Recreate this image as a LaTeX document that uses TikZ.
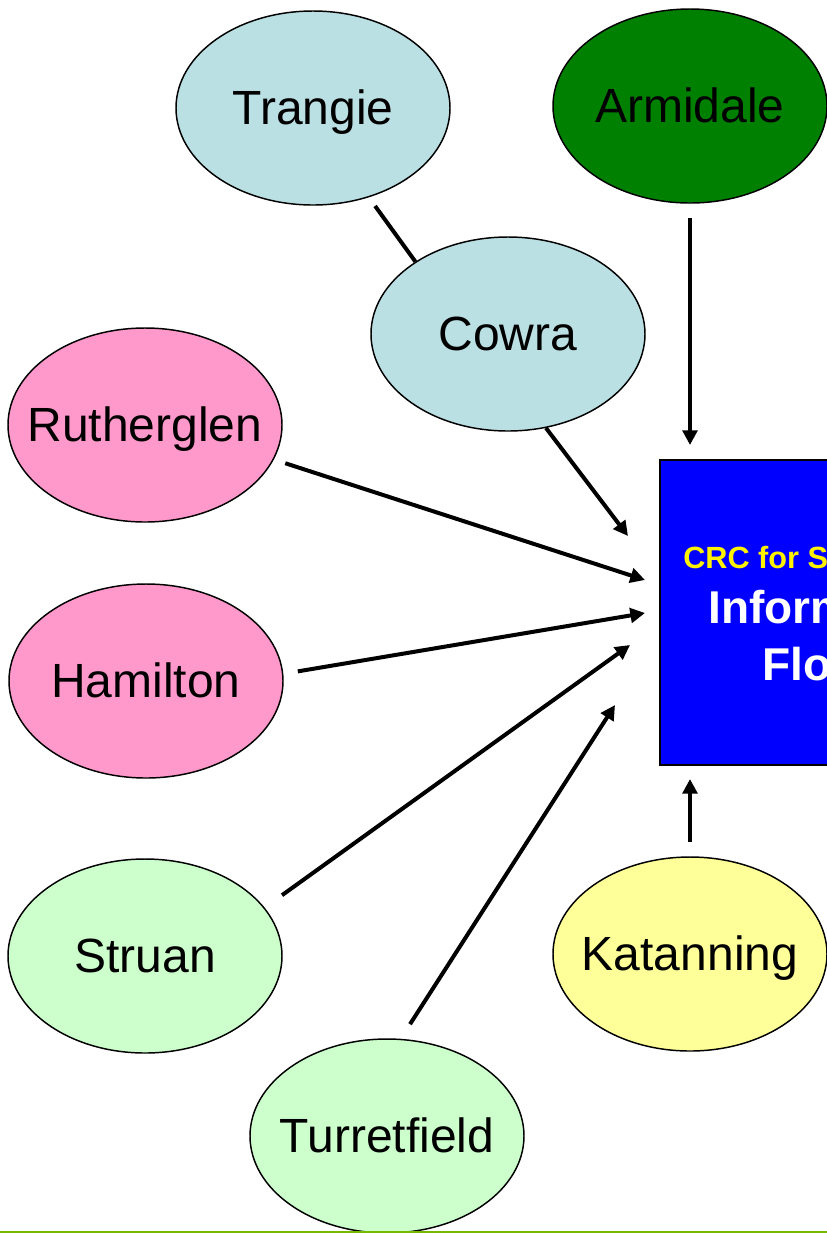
\documentclass[tikz,border=0pt]{standalone}
\usepackage{fontspec}
\setmainfont{Liberation Sans}
\usetikzlibrary{arrows.meta,shapes.geometric}

\definecolor{sitecyan}{RGB}{187,224,228}
\definecolor{sitepink}{RGB}{255,153,204}
\definecolor{sitegreen}{RGB}{0,128,0}
\definecolor{sitemint}{RGB}{204,255,204}
\definecolor{siteyellow}{RGB}{255,255,153}
\definecolor{footgreen}{RGB}{118,185,0}

% fixed-size ellipse label
\newcommand{\sitename}[1]{\makebox[0pt][c]{#1}}

\begin{document}
\begin{tikzpicture}[
      x=0.75pt, y=-0.75pt,
      site/.style={draw=black, ellipse, line width=1.1pt, minimum width=205.5pt, minimum height=145.5pt, inner sep=0pt, text height=24pt, text depth=0pt, font=\fontsize{36pt}{42pt}\selectfont},
      infobox/.style={draw=black, fill=blue, line width=1.5pt, minimum width=262.5pt, minimum height=228.75pt, inner sep=0pt},
      boxtext/.style={anchor=base west, inner sep=0pt, font=\fontsize{34.5pt}{40pt}\selectfont\bfseries\color{white}},
      arr/.style={-{Triangle[length=11pt, width=11pt]}, line width=3pt, color=black},
      link/.style={line width=3pt, color=black}
  ]
      \useasboundingbox (0,0) rectangle (827,1233);
      \clip (0,0) rectangle (827,1233);

      % CENTRE BOX
      \node[infobox] (info) at (835,612.5) {};
      \node[boxtext, font=\fontsize{23pt}{28pt}\selectfont\bfseries\color{yellow}] (crc) at (683,568) {CRC for Sheep};
      \node[boxtext] (infor) at (708,623) {Information};
      \node[boxtext] (flow) at (762,680) {Flow};

      % SITES
      \node[site, fill=sitecyan] (trangie) at (313,108) {\sitename{Trangie}};
      \node[site, fill=sitegreen] (armidale) at (690,106) {\sitename{Armidale}};
      \node[site, fill=sitecyan] (cowra) at (508,334) {\sitename{Cowra}};
      \node[site, fill=sitepink] (rutherglen) at (145,425) {\sitename{Rutherglen}};
      \node[site, fill=sitepink] (hamilton) at (146,681) {\sitename{Hamilton}};
      \node[site, fill=sitemint] (struan) at (145,956) {\sitename{Struan}};
      \node[site, fill=siteyellow] (katanning) at (690,954) {\sitename{Katanning}};
      \node[site, fill=sitemint] (turretfield) at (387,1136) {\sitename{Turretfield}};

      % ARROW ENDS
      \coordinate (tipArm) at (690,445);
      \coordinate (tipCow) at (628,536);
      \coordinate (tipRut) at (645,580);
      \coordinate (tipHam) at (645,613);
      \coordinate (tipStr) at (630,645);
      \coordinate (tipTur) at (615,705);
      \coordinate (tipKat) at (690,779);

      % CONNECTORS
      \draw[link, shorten <=8pt] (trangie.-58) -- (cowra.142);
      \draw[arr, shorten <=11pt] (armidale.south) -- (tipArm);
      \draw[arr] (cowra.-68) -- (tipCow);
      \draw[arr, shorten <=9pt] (rutherglen.-15) -- (tipRut);
      \draw[arr, shorten <=11pt] (hamilton.3) -- (tipHam);
      \draw[arr, shorten <=16pt] (struan.22) -- (tipStr);
      \draw[arr, shorten <=13pt] (turretfield.82) -- (tipTur);
      \draw[arr, shorten <=11pt] (katanning.north) -- (tipKat);

      % FOOTER LINE
      \draw[footgreen, line width=1.5pt] (0,1231.5) -- (827,1231.5);
  \end{tikzpicture}
\end{document}
